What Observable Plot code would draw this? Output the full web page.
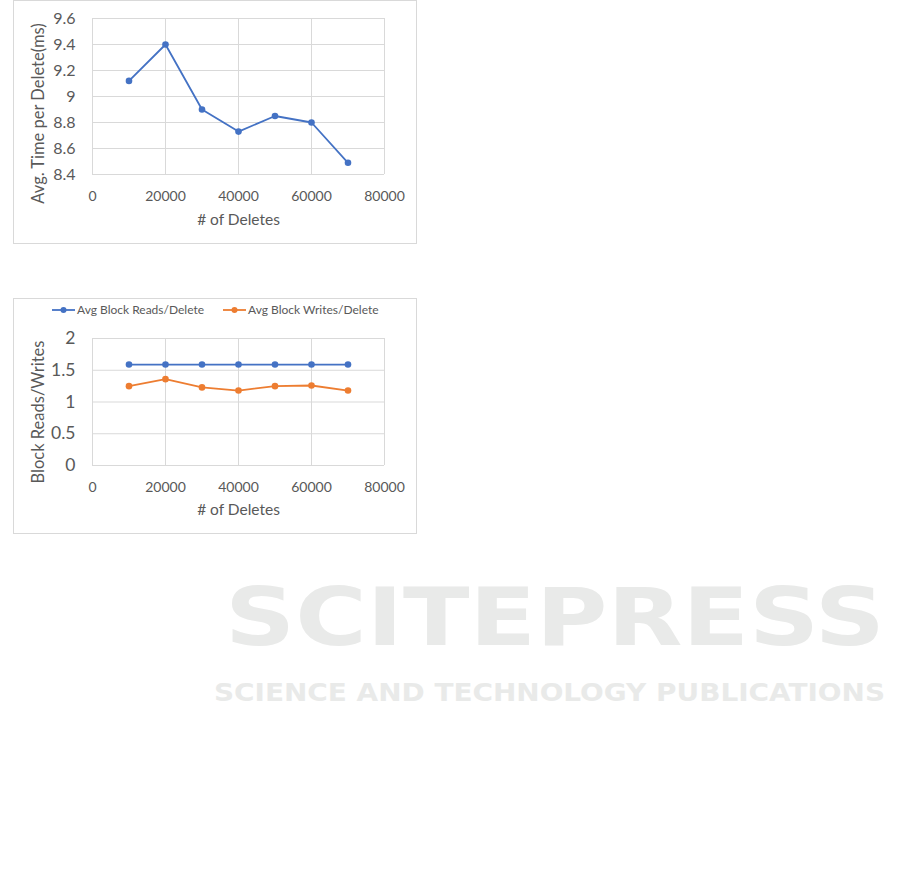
<!DOCTYPE html>
<html>
<head>
<meta charset="utf-8">
<script src="https://cdn.jsdelivr.net/npm/d3@7"></script>
<script src="https://cdn.jsdelivr.net/npm/@observablehq/plot@0.6"></script>
<style>
  html, body { margin: 0; padding: 0; background: #fff; }
  body { width: 901px; height: 876px; position: relative; overflow: hidden; font-family: Lato, "Open Sans", sans-serif; }
  .abs { position: absolute; }
  .frame { position: absolute; border: 1px solid #d9d9d9; box-sizing: border-box; }
  .legend { position: absolute; display: flex; align-items: center; font-size: 12px; color: #595959; white-space: nowrap; }
  .legend .item { display: flex; align-items: center; }
  .legend svg { display: block; }
</style>
</head>
<body>
<svg class="abs" id="wm" width="901" height="876" style="left:0;top:0">
  <text x="225" y="645" font-family="DejaVu Sans" font-weight="bold" font-size="81" fill="#e9eae9" textLength="660" lengthAdjust="spacingAndGlyphs">SCITEPRESS</text>
  <text x="214" y="701" font-family="DejaVu Sans" font-weight="bold" font-size="25" fill="#e9eae9" textLength="671" lengthAdjust="spacingAndGlyphs">SCIENCE AND TECHNOLOGY PUBLICATIONS</text>
</svg>
<div class="frame" style="left:13px;top:0px;width:404px;height:244px"></div>
<div class="frame" style="left:13px;top:298px;width:404px;height:236px"></div>
<div class="abs" id="chart1" style="left:13px;top:0px"></div>
<div class="abs" id="chart2" style="left:13px;top:298px"></div>
<div class="legend" id="legend2" style="left:52px;top:302px"></div>
<script>
// ---- data ----
const deletes = [10000, 20000, 30000, 40000, 50000, 60000, 70000];
const avgTimePerDelete = [9.12, 9.40, 8.90, 8.73, 8.85, 8.80, 8.49];
const avgBlockReads = [1.59, 1.59, 1.59, 1.59, 1.59, 1.59, 1.59];
const avgBlockWrites = [1.25, 1.36, 1.23, 1.18, 1.25, 1.26, 1.18];
const xTicks = [0, 20000, 40000, 60000, 80000];
const yTicks1 = [8.4, 8.6, 8.8, 9, 9.2, 9.4, 9.6];
const yTicks2 = [0, 0.5, 1, 1.5, 2];
const seriesNames = ["Avg Block Reads/Delete", "Avg Block Writes/Delete"];
const seriesColors = ["#4472C4", "#ED7D31"];
const xTitle = "# of Deletes";
const yTitle1 = "Avg. Time per Delete(ms)";
const yTitle2 = "Block Reads/Writes";

const grid = "#d9d9d9";
const textColor = "#595959";
const font = "Lato, 'Open Sans', sans-serif";

// ---- chart 1 ----
const data1 = deletes.map((x, i) => ({x, y: avgTimePerDelete[i]}));
const chart1 = Plot.plot({
  width: 403, height: 243,
  marginLeft: 79, marginRight: 32, marginTop: 18, marginBottom: 69,
  style: {fontFamily: font, color: textColor, background: "transparent", overflow: "visible"},
  x: {domain: [0, 80000], label: null},
  y: {domain: [8.4, 9.6], label: null},
  marks: [
    Plot.gridX(xTicks, {stroke: grid, strokeOpacity: 1}),
    Plot.gridY(yTicks1, {stroke: grid, strokeOpacity: 1}),
    Plot.axisX(xTicks, {tickSize: 0, tickPadding: 17, fontSize: 14, fill: textColor, tickFormat: d => String(d), label: null}),
    Plot.axisY(yTicks1, {tickSize: 0, tickPadding: 17, fontSize: 16, fill: textColor, tickFormat: d => String(d), label: null}),
    Plot.line(data1, {x: "x", y: "y", stroke: seriesColors[0], strokeWidth: 1.8}),
    Plot.dot(data1, {x: "x", y: "y", r: 3.3, fill: seriesColors[0], stroke: "none"}),
    Plot.text([xTitle], {frameAnchor: "bottom", dy: 46, lineAnchor: "middle", fontSize: 15.5, fill: textColor}),
    Plot.text([yTitle1], {frameAnchor: "left", dx: -53.5, dy: 17, rotate: -90, lineAnchor: "middle", textAnchor: "middle", fontSize: 16.5, fill: textColor})
  ]
});
document.getElementById("chart1").append(chart1);

// ---- chart 2 ----
const data2 = [];
deletes.forEach((x, i) => {
  data2.push({x, y: avgBlockReads[i], s: seriesNames[0]});
});
deletes.forEach((x, i) => {
  data2.push({x, y: avgBlockWrites[i], s: seriesNames[1]});
});
const chart2 = Plot.plot({
  width: 403, height: 235,
  marginLeft: 79, marginRight: 32, marginTop: 40, marginBottom: 68,
  style: {fontFamily: font, color: textColor, background: "transparent", overflow: "visible"},
  x: {domain: [0, 80000], label: null},
  y: {domain: [0, 2], label: null},
  color: {domain: seriesNames, range: seriesColors},
  marks: [
    Plot.gridX(xTicks, {stroke: grid, strokeOpacity: 1}),
    Plot.gridY(yTicks2, {stroke: grid, strokeOpacity: 1}),
    Plot.axisX(xTicks, {tickSize: 0, tickPadding: 17, fontSize: 14, fill: textColor, tickFormat: d => String(d), label: null}),
    Plot.axisY(yTicks2, {tickSize: 0, tickPadding: 17, fontSize: 17.5, fill: textColor, tickFormat: d => String(d), label: null}),
    Plot.line(data2, {x: "x", y: "y", z: "s", stroke: "s", strokeWidth: 1.8}),
    Plot.dot(data2, {x: "x", y: "y", fill: "s", r: 3.3, stroke: "none"}),
    Plot.text([xTitle], {frameAnchor: "bottom", dy: 45, lineAnchor: "middle", fontSize: 15.5, fill: textColor}),
    Plot.text([yTitle2], {frameAnchor: "left", dx: -53.5, dy: 10, rotate: -90, lineAnchor: "middle", textAnchor: "middle", fontSize: 16.5, fill: textColor})
  ]
});
document.getElementById("chart2").append(chart2);

// ---- legend ----
const legend = document.getElementById("legend2");
seriesNames.forEach((name, i) => {
  const item = document.createElement("div");
  item.className = "item";
  if (i > 0) item.style.marginLeft = "19px";
  const ns = "http://www.w3.org/2000/svg";
  const sw = document.createElementNS(ns, "svg");
  sw.setAttribute("width", 24); sw.setAttribute("height", 14);
  const ln = document.createElementNS(ns, "line");
  ln.setAttribute("x1", 0); ln.setAttribute("x2", 23); ln.setAttribute("y1", 7); ln.setAttribute("y2", 7);
  ln.setAttribute("stroke", seriesColors[i]); ln.setAttribute("stroke-width", 1.8);
  const c = document.createElementNS(ns, "circle");
  c.setAttribute("cx", 11.5); c.setAttribute("cy", 7); c.setAttribute("r", 3); c.setAttribute("fill", seriesColors[i]);
  sw.append(ln, c);
  const t = document.createElement("span");
  t.textContent = name;
  t.style.marginLeft = "1px";
  item.append(sw, t);
  legend.append(item);
});
</script>
</body>
</html>
